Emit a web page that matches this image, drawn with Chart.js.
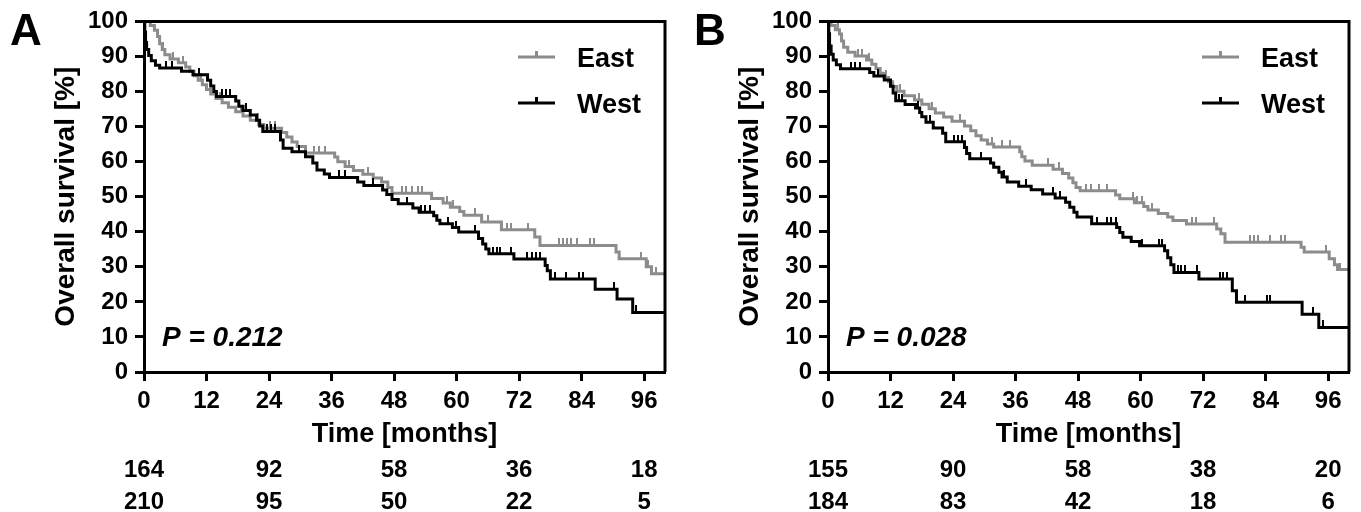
<!DOCTYPE html>
<html>
<head>
<meta charset="utf-8">
<script src="https://cdn.jsdelivr.net/npm/chart.js@4.4.1/dist/chart.umd.min.js"></script>
<style>
  html, body { margin: 0; padding: 0; background: #fff; overflow: hidden; }
  #wrap { position: relative; width: 1361px; height: 512px; }
  canvas { position: absolute; top: 0; }
  #chartA { left: 0; }
  #chartB { left: 684px; }
</style>
</head>
<body>
<div id="wrap">
  <canvas id="chartA" width="677" height="512"></canvas>
  <canvas id="chartB" width="677" height="512"></canvas>
</div>
<script>
const FONT = "'Liberation Sans', Arial, Helvetica, sans-serif";
const GREY = '#8c8c8c';

const xTickValues = [0, 12, 24, 36, 48, 60, 72, 84, 96];
const riskMonths = [0, 24, 48, 72, 96];

/* Panel A */
const eastA_time = [0, 1.2, 2.0, 2.6, 3.0, 3.5, 4.0, 5.0, 6.6, 8.0, 8.8, 9.6, 10.4, 11.2, 12.0, 12.8, 13.8, 15.0, 16.2, 17.6, 19.0, 20.4, 22.0, 23.0, 26.4, 27.4, 28.4, 29.4, 31.0, 36.6, 37.2, 38.6, 40.2, 42.0, 44.0, 45.6, 46.8, 47.6, 55.2, 57.4, 58.8, 60.6, 61.4, 64.8, 68.6, 75.0, 76.0, 90.6, 91.2, 96.4, 97.4, 100];
const eastA_surv = [100, 98.8, 97.5, 95.7, 93.6, 92.0, 90.5, 89.3, 88.2, 87.0, 85.8, 84.5, 83.2, 81.9, 80.6, 79.3, 78.0, 76.8, 75.5, 74.2, 73.0, 71.8, 70.6, 69.5, 68.3, 67.0, 65.6, 64.3, 62.5, 61.3, 60.0, 58.6, 57.5, 56.4, 55.3, 54.2, 52.6, 51.0, 49.5, 48.2, 47.0, 45.8, 44.7, 42.8, 40.6, 38.5, 36.1, 34.2, 32.3, 30.0, 28.0, 28.0];
const eastA_censor = [3.6, 5.6, 7.4, 11.0, 14.6, 18.6, 21.8, 24.2, 25.2, 32.6, 33.6, 34.8, 39.4, 43.0, 49.6, 50.2, 51.4, 52.6, 53.4, 58.2, 59.4, 63.6, 66.0, 69.6, 70.4, 73.8, 79.6, 80.4, 81.2, 82.0, 83.2, 85.6, 86.4, 95.4, 96.8, 98.2];

const westA_time = [0, 0.15, 0.3, 0.5, 0.9, 1.4, 2.2, 3.0, 7.2, 9.4, 12.2, 12.8, 13.4, 13.9, 17.6, 18.2, 19.0, 20.4, 21.6, 22.2, 22.8, 26.2, 26.7, 28.4, 31.0, 32.4, 33.2, 34.6, 35.6, 41.0, 42.2, 45.8, 46.6, 47.6, 48.8, 51.6, 52.8, 55.6, 56.2, 56.8, 59.2, 60.4, 64.2, 65.0, 65.6, 66.2, 71.0, 77.0, 77.4, 78.0, 86.6, 90.8, 93.8, 100];
const westA_surv = [100, 97.0, 94.0, 92.0, 90.3, 88.8, 87.5, 86.7, 85.8, 84.8, 83.2, 81.6, 80.0, 78.6, 77.3, 75.8, 74.6, 73.3, 71.8, 70.2, 68.6, 66.2, 63.8, 62.8, 61.4, 59.6, 57.6, 56.5, 55.5, 54.2, 53.2, 51.9, 50.6, 49.2, 48.0, 46.8, 45.6, 44.6, 43.3, 42.3, 41.2, 39.9, 38.1, 36.5, 35.1, 33.7, 32.2, 30.4, 28.9, 26.5, 23.6, 20.8, 17.0, 17.0];
const westA_censor = [4.2, 5.4, 10.6, 15.0, 15.8, 16.6, 19.6, 23.6, 24.4, 25.2, 29.8, 37.4, 38.6, 44.0, 50.4, 53.2, 54.0, 54.8, 58.4, 59.8, 63.6, 67.0, 67.8, 68.4, 70.4, 73.6, 74.4, 75.2, 76.0, 78.8, 81.0, 83.4, 84.2, 90.2, 94.4];

const riskEastA = [164, 92, 58, 36, 18];
const riskWestA = [210, 95, 50, 22, 5];

/* Panel B */
const eastB_time = [0, 0.6, 1.4, 2.2, 2.6, 3.0, 3.8, 5.2, 7.4, 8.4, 9.2, 10.0, 10.8, 11.6, 12.4, 13.2, 14.6, 16.6, 18.0, 19.4, 20.6, 22.2, 23.8, 26.2, 27.4, 28.4, 29.4, 30.6, 31.8, 36.8, 37.2, 37.8, 39.2, 43.2, 45.0, 46.2, 47.0, 47.6, 48.4, 55.2, 56.0, 58.8, 60.6, 61.4, 63.4, 65.2, 66.2, 68.8, 74.6, 75.4, 76.2, 90.8, 91.4, 96.2, 97.2, 97.8, 100];
const eastB_surv = [100, 98.8, 97.6, 96.4, 94.4, 92.6, 91.2, 90.1, 89.0, 87.8, 86.6, 85.2, 84.0, 82.8, 81.4, 80.1, 78.8, 77.6, 76.4, 75.1, 73.9, 72.7, 71.5, 70.2, 68.8, 67.4, 66.2, 65.0, 64.2, 62.8, 61.4, 60.2, 59.0, 57.8, 56.6, 55.3, 54.0, 52.6, 51.7, 50.5, 49.4, 48.3, 47.2, 46.2, 45.2, 44.2, 43.2, 42.2, 40.8, 39.4, 37.0, 35.6, 34.2, 32.3, 30.6, 29.2, 29.2];
const eastB_censor = [2.0, 5.8, 6.6, 7.8, 11.2, 13.8, 17.4, 20.0, 25.4, 31.4, 33.4, 35.0, 42.2, 44.4, 49.6, 50.4, 52.0, 53.6, 58.6, 59.4, 60.2, 62.2, 69.8, 70.6, 74.0, 81.0, 81.8, 82.6, 84.8, 87.0, 87.8, 95.6, 98.2];

const westB_time = [0, 0.15, 0.3, 0.6, 1.0, 1.6, 2.4, 8.0, 8.8, 10.8, 12.0, 12.5, 13.0, 14.8, 16.8, 17.6, 18.0, 18.8, 20.2, 22.0, 22.6, 26.2, 26.6, 27.2, 31.2, 31.8, 32.8, 33.4, 34.4, 36.6, 39.0, 41.2, 43.6, 45.6, 46.4, 47.2, 47.8, 50.6, 55.4, 56.0, 56.6, 58.2, 59.8, 64.6, 65.2, 65.8, 66.4, 71.2, 77.6, 78.4, 91.0, 94.2, 100];
const westB_surv = [100, 96.5, 93.0, 90.6, 89.0, 87.6, 86.5, 85.4, 84.4, 83.3, 81.5, 79.6, 77.4, 76.3, 75.3, 74.0, 72.8, 71.2, 69.6, 68.1, 65.7, 64.0, 62.3, 60.8, 59.6, 58.4, 57.0, 55.6, 54.2, 53.0, 52.0, 50.8, 49.6, 48.4, 47.0, 45.6, 44.2, 42.3, 41.2, 39.8, 38.4, 37.2, 36.0, 34.6, 32.6, 30.6, 28.4, 26.5, 23.2, 19.9, 16.5, 12.7, 12.7];
const westB_censor = [4.4, 5.2, 6.2, 9.6, 13.6, 14.2, 17.2, 19.6, 24.2, 25.0, 25.8, 29.4, 33.8, 38.0, 43.2, 44.6, 51.6, 53.6, 54.4, 55.2, 60.2, 63.6, 64.2, 67.2, 67.8, 68.6, 70.8, 75.2, 75.8, 76.6, 80.0, 84.2, 84.8, 93.0, 95.0];

const riskEastB = [155, 90, 58, 38, 20];
const riskWestB = [184, 83, 42, 18, 6];

/* helpers */

// value of the step curve at time t, so censor ticks sit on the line
survAt = (times, surv, t) => {
    let s = surv[0];
    for (let i in times) {
        if (times[i] <= t) s = surv[i];
    }
    return s;
};

curvePoints = (times, surv) => times.map((t, i) => ({ x: t, y: surv[i] }));
censorPoints = (times, surv, cens) => cens.map((t) => ({ x: t, y: survAt(times, surv, t) }));

// small upward tick used as point style for censored cases
tickMark = (color) => {
    const c = document.createElement('canvas');
    c.width = 2;
    c.height = 14;
    const cx = c.getContext('2d');
    cx.fillStyle = color;
    cx.fillRect(0, 0, 2, 7);
    return c;
};

const decorPlugin = {
    id: 'decor',
    afterDraw(chart, args, opts) {
        const { ctx, chartArea: a } = chart;
        const x = chart.scales.x;
        ctx.save();

        /* box top + right */
        ctx.strokeStyle = '#000';
        ctx.lineWidth = 3;
        ctx.beginPath();
        ctx.moveTo(a.left, a.top);
        ctx.lineTo(a.right, a.top);
        ctx.lineTo(a.right, a.bottom);
        ctx.stroke();

        ctx.fillStyle = '#000';
        ctx.textBaseline = 'alphabetic';

        /* panel letter */
        ctx.textAlign = 'left';
        ctx.font = 'bold 44px ' + FONT;
        ctx.fillText(opts.letter, 10, 45);

        /* y title */
        ctx.save();
        ctx.translate(74, (a.top + a.bottom) / 2);
        ctx.rotate(-Math.PI / 2);
        ctx.textAlign = 'center';
        ctx.font = 'bold 28px ' + FONT;
        ctx.fillText('Overall survival [%]', 0, 0);
        ctx.restore();

        /* x title */
        ctx.textAlign = 'center';
        ctx.font = 'bold 27px ' + FONT;
        ctx.fillText('Time [months]', (a.left + a.right) / 2, 442);

        /* numbers at risk */
        ctx.font = 'bold 24px ' + FONT;
        opts.risk.forEach((row, r) => {
            row.forEach((n, i) => {
                ctx.fillText(String(n), x.getPixelForValue(riskMonths[i]), 477 + r * 32);
            });
        });

        /* legend */
        const items = [
            { label: 'East', color: GREY, y: 57 },
            { label: 'West', color: '#000', y: 103 },
        ];
        items.forEach((it) => {
            const x0 = a.right - 147;
            const x1 = a.right - 110;
            ctx.strokeStyle = it.color;
            ctx.lineWidth = 3;
            ctx.beginPath();
            ctx.moveTo(x0, it.y);
            ctx.lineTo(x1, it.y);
            ctx.moveTo((x0 + x1) / 2, it.y);
            ctx.lineTo((x0 + x1) / 2, it.y - 6);
            ctx.stroke();
            ctx.fillStyle = '#000';
            ctx.textAlign = 'left';
            ctx.font = 'bold 27px ' + FONT;
            ctx.fillText(it.label, a.right - 88, it.y + 9.5);
        });

        /* p value */
        ctx.textAlign = 'left';
        ctx.font = 'italic bold 28px ' + FONT;
        ctx.fillText(opts.pText, a.left + 18, 346);

        ctx.restore();
    },
};

const axisGrid = { drawOnChartArea: false, drawTicks: true, tickLength: 9, tickWidth: 3, tickColor: '#000' };
const axisBorder = { display: true, color: '#000', width: 3 };
const tickFont = { family: FONT, size: 24, weight: 'bold' };

makeKM = (id, letter, pText, e, w, risk) => {
    const eastTick = tickMark(GREY);
    const westTick = tickMark('#000');
    return new Chart(document.getElementById(id), {
        type: 'line',
        data: {
            datasets: [{
                label: 'East',
                data: curvePoints(e.time, e.surv),
                stepped: true,
                borderColor: GREY,
                borderWidth: 3,
                pointRadius: 0,
                fill: false,
                order: 4,
            }, {
                label: 'East censored',
                data: censorPoints(e.time, e.surv, e.censor),
                showLine: false,
                pointStyle: eastTick,
                pointRadius: 4,
                order: 3,
            }, {
                label: 'West',
                data: curvePoints(w.time, w.surv),
                stepped: true,
                borderColor: '#000',
                borderWidth: 3,
                pointRadius: 0,
                fill: false,
                order: 2,
            }, {
                label: 'West censored',
                data: censorPoints(w.time, w.surv, w.censor),
                showLine: false,
                pointStyle: westTick,
                pointRadius: 4,
                order: 1,
            }],
        },
        options: {
            responsive: false,
            animation: false,
            events: [],
            layout: { padding: { left: 0, top: 21, right: 12, bottom: 0 } },
            plugins: {
                legend: { display: false },
                tooltip: { enabled: false },
                decor: { letter: letter, pText: pText, risk: risk },
            },
            scales: {
                x: {
                    type: 'linear',
                    min: 0,
                    max: 100,
                    // axis runs to 100 but is labelled every 12 months up to 96
                    afterBuildTicks: (s) => { s.ticks = xTickValues.map((v) => ({ value: v })); },
                    afterFit: (s) => { s.height = 140; },
                    ticks: { stepSize: 12, color: '#000', font: tickFont, padding: 6, maxRotation: 0, autoSkip: false },
                    grid: axisGrid,
                    border: axisBorder,
                },
                y: {
                    min: 0,
                    max: 100,
                    afterFit: (s) => { s.width = 144; },
                    ticks: { stepSize: 10, color: '#000', font: tickFont, padding: 7 },
                    grid: axisGrid,
                    border: axisBorder,
                },
            },
        },
        plugins: [decorPlugin],
    });
};

makeKM('chartA', 'A', 'P = 0.212',
    { time: eastA_time, surv: eastA_surv, censor: eastA_censor },
    { time: westA_time, surv: westA_surv, censor: westA_censor },
    [riskEastA, riskWestA]);

makeKM('chartB', 'B', 'P = 0.028',
    { time: eastB_time, surv: eastB_surv, censor: eastB_censor },
    { time: westB_time, surv: westB_surv, censor: westB_censor },
    [riskEastB, riskWestB]);
</script>
</body>
</html>
